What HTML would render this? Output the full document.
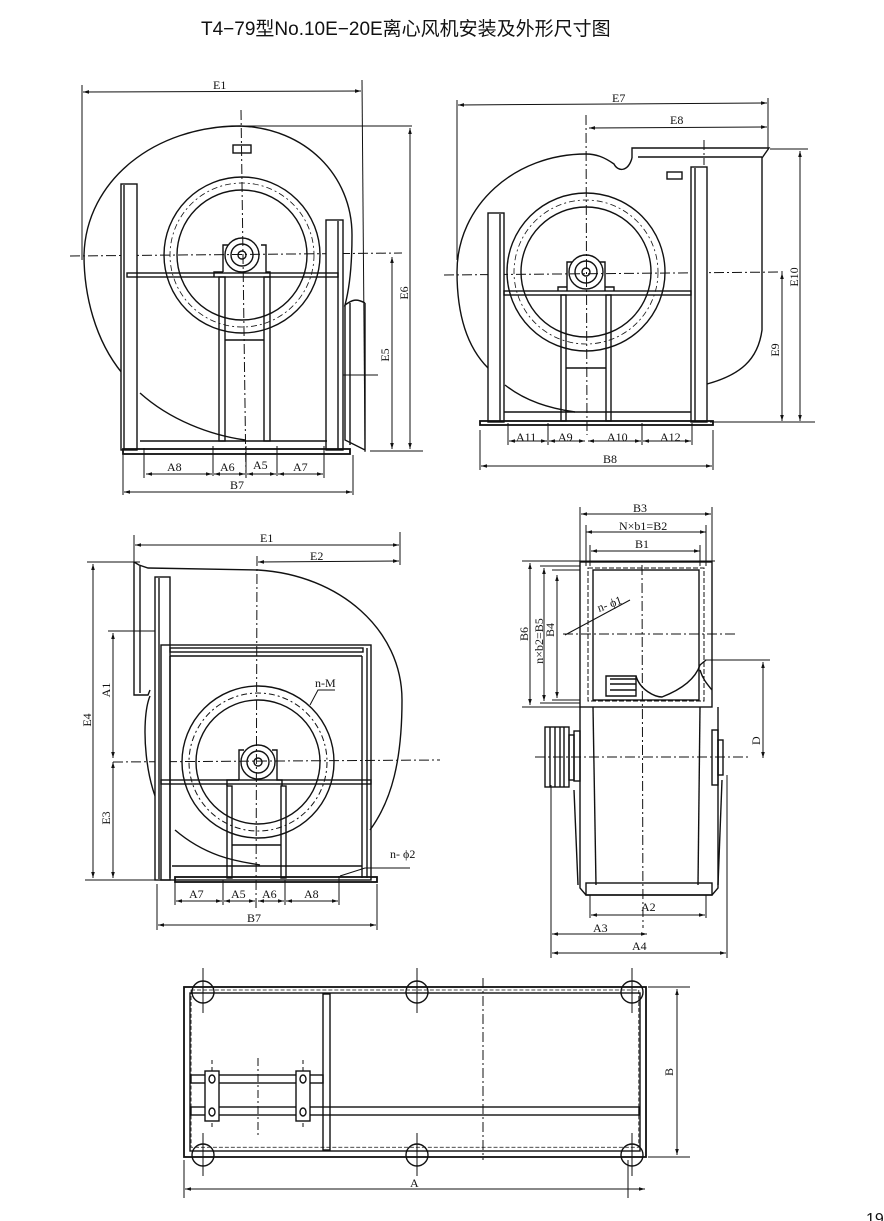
<!DOCTYPE html>
<html><head><meta charset="utf-8"><style>
html,body{margin:0;padding:0;background:#fff}
svg{display:block}
text{font-family:"Liberation Serif","Noto Serif CJK SC",serif;font-size:12px;fill:#111}
.t{font-family:"Liberation Sans","Noto Sans CJK SC",sans-serif;font-size:19px}
</style></head><body>
<svg width="884" height="1221" viewBox="0 0 884 1221" xmlns="http://www.w3.org/2000/svg">
<defs>
<marker id="a" viewBox="0 0 10 10" refX="10" refY="5" markerWidth="8" markerHeight="6" orient="auto-start-reverse"><path d="M0,2 L10,5 L0,8z" fill="#111"/></marker>
</defs>
<text class="t" x="201" y="35">T4−79型No.10E−20E离心风机安装及外形尺寸图</text>
<text x="866" y="1224" style="font-family:'Liberation Sans';font-size:16px">19</text>

<g stroke="#111" fill="none" stroke-width="1.4">
<!-- ===== TOP LEFT VIEW ===== -->
<g stroke-width="1">
<line x1="82" y1="85" x2="82" y2="260"/><line x1="362" y1="80" x2="365" y2="452"/>
<line x1="83" y1="92" x2="361" y2="91" marker-start="url(#a)" marker-end="url(#a)"/>
<line x1="245" y1="126" x2="412" y2="126"/><line x1="370" y1="451" x2="423" y2="451"/>
<line x1="410" y1="128" x2="410" y2="449" marker-start="url(#a)" marker-end="url(#a)"/>
<line x1="392" y1="257" x2="392" y2="449" marker-start="url(#a)" marker-end="url(#a)"/>
<line x1="330" y1="375" x2="378" y2="375"/>
<line x1="144" y1="448" x2="144" y2="478"/><line x1="213" y1="446" x2="213" y2="476"/><line x1="246" y1="446" x2="246" y2="478"/><line x1="277" y1="446" x2="277" y2="476"/><line x1="324" y1="446" x2="324" y2="478"/>
<line x1="146" y1="474" x2="212" y2="474" marker-start="url(#a)" marker-end="url(#a)"/>
<line x1="214" y1="474" x2="245" y2="474" marker-start="url(#a)" marker-end="url(#a)"/>
<line x1="247" y1="474" x2="276" y2="474" marker-start="url(#a)" marker-end="url(#a)"/>
<line x1="278" y1="474" x2="323" y2="474" marker-start="url(#a)" marker-end="url(#a)"/>
<line x1="123" y1="455" x2="123" y2="495"/><line x1="353" y1="455" x2="353" y2="495"/>
<line x1="124" y1="492" x2="352" y2="492" marker-start="url(#a)" marker-end="url(#a)"/>
<line x1="70" y1="256" x2="402" y2="253" stroke-dasharray="10 3 2 3"/>
<line x1="241" y1="110" x2="246" y2="478" stroke-dasharray="10 3 2 3"/>
</g>
<path d="M122,373 C95,340 84,295 84,255 C86,180 155,126 240,126 C305,128 352,175 352,235 C352,270 349,290 345,305 C352,300 356,298 365,303"/>
<path d="M140,393 C170,420 210,435 245,440"/>
<rect x="233" y="145" width="18" height="8"/>
<path d="M345,305 L345,440 L365,450 L365,303"/><line x1="350" y1="303" x2="350" y2="445"/>
<rect x="121" y="184" width="16" height="266" fill="#fff"/><line x1="124" y1="185" x2="124" y2="449"/>
<rect x="326" y="220" width="17" height="230" fill="#fff"/><line x1="338" y1="221" x2="338" y2="449"/>
<rect x="127" y="273" width="211" height="4"/>
<rect x="123" y="449" width="227" height="5" stroke-width="1.8"/>
<line x1="140" y1="441" x2="327" y2="441"/>
<circle cx="242" cy="255" r="78"/><circle cx="242" cy="255" r="65"/>
<circle cx="242" cy="255" r="72" stroke-width="0.8" stroke-dasharray="6 3 2 3"/>
<circle cx="242" cy="255" r="17"/><circle cx="242" cy="255" r="11"/><circle cx="242" cy="255" r="4"/>
<path d="M223,272 L223,245 L228,245 M261,245 L266,245 L266,272 L270,272 L270,277 M214,277 L214,272 L223,272"/>
<rect x="219" y="277" width="6" height="164"/><rect x="264" y="277" width="6" height="164"/>
<line x1="225" y1="340" x2="264" y2="340"/>

<!-- ===== TOP RIGHT VIEW ===== -->
<g stroke-width="1">
<line x1="457" y1="100" x2="457" y2="260"/><line x1="768" y1="98" x2="768" y2="150"/>
<line x1="458" y1="105" x2="767" y2="103" marker-start="url(#a)" marker-end="url(#a)"/>
<line x1="589" y1="128" x2="767" y2="127" marker-start="url(#a)" marker-end="url(#a)"/>
<line x1="770" y1="149" x2="808" y2="149"/><line x1="710" y1="422" x2="815" y2="422"/>
<line x1="800" y1="151" x2="800" y2="421" marker-start="url(#a)" marker-end="url(#a)"/>
<line x1="782" y1="273" x2="782" y2="421" marker-start="url(#a)" marker-end="url(#a)"/>
<line x1="444" y1="275" x2="785" y2="272" stroke-dasharray="10 3 2 3"/>
<line x1="586" y1="115" x2="587" y2="435" stroke-dasharray="10 3 2 3"/>
<line x1="704" y1="140" x2="704" y2="165" stroke-dasharray="10 3 2 3"/>
<line x1="508" y1="423" x2="508" y2="445"/><line x1="548" y1="423" x2="548" y2="445"/><line x1="642" y1="423" x2="642" y2="445"/><line x1="692" y1="423" x2="692" y2="445"/>
<line x1="509" y1="441" x2="547" y2="441" marker-start="url(#a)" marker-end="url(#a)"/>
<line x1="549" y1="441" x2="585" y2="441" marker-start="url(#a)" marker-end="url(#a)"/>
<line x1="588" y1="441" x2="641" y2="441" marker-start="url(#a)" marker-end="url(#a)"/>
<line x1="643" y1="441" x2="691" y2="441" marker-start="url(#a)" marker-end="url(#a)"/>
<line x1="480" y1="430" x2="480" y2="470"/><line x1="713" y1="430" x2="713" y2="470"/>
<line x1="481" y1="466" x2="712" y2="466" marker-start="url(#a)" marker-end="url(#a)"/>
</g>
<path d="M632,158 C628,172 618,172 614,164 C604,157 596,154 586,154 C515,154 457,205 457,272 C457,320 470,350 488,368"/>
<path d="M632,158 L632,148 L769,148 L762,158 L762,330 C758,360 740,375 707,384"/>
<line x1="638" y1="157" x2="762" y2="157"/>
<path d="M505,385 C530,405 560,410 575,412"/>
<rect x="667" y="172" width="15" height="7"/>
<rect x="488" y="213" width="16" height="209" fill="#fff"/><line x1="500" y1="214" x2="500" y2="421"/>
<rect x="691" y="167" width="16" height="255" fill="#fff"/><line x1="695" y1="168" x2="695" y2="421"/>
<rect x="504" y="291" width="187" height="4"/>
<rect x="480" y="421" width="233" height="4" stroke-width="1.8"/>
<line x1="504" y1="412" x2="691" y2="412"/>
<circle cx="586" cy="272" r="79"/><circle cx="586" cy="272" r="65"/>
<circle cx="586" cy="272" r="72" stroke-width="0.8" stroke-dasharray="6 3 2 3"/>
<circle cx="586" cy="272" r="17"/><circle cx="586" cy="272" r="11"/><circle cx="586" cy="272" r="4"/>
<path d="M567,291 L567,262 L572,262 M600,262 L605,262 L605,291"/><path d="M558,291 L558,287 L567,287 M605,287 L614,287 L614,291"/>
<rect x="561" y="295" width="5" height="126"/><rect x="606" y="295" width="5" height="126"/>
<line x1="566" y1="368" x2="606" y2="368"/>

<!-- ===== BOTTOM LEFT VIEW ===== -->
<g stroke-width="1">
<line x1="134" y1="535" x2="134" y2="565"/><line x1="400" y1="532" x2="400" y2="565"/>
<line x1="135" y1="545" x2="399" y2="545" marker-start="url(#a)" marker-end="url(#a)"/>
<line x1="258" y1="562" x2="399" y2="561" marker-start="url(#a)" marker-end="url(#a)"/>
<line x1="87" y1="562" x2="140" y2="562"/><line x1="85" y1="880" x2="160" y2="880"/><line x1="108" y1="631" x2="170" y2="631"/>
<line x1="93" y1="564" x2="93" y2="878" marker-start="url(#a)" marker-end="url(#a)"/>
<line x1="113" y1="633" x2="113" y2="758" marker-start="url(#a)" marker-end="url(#a)"/>
<line x1="113" y1="762" x2="113" y2="878" marker-start="url(#a)" marker-end="url(#a)"/>
<line x1="113" y1="762" x2="440" y2="760" stroke-dasharray="10 3 2 3"/>
<line x1="257" y1="556" x2="256" y2="910" stroke-dasharray="10 3 2 3"/>
<line x1="175" y1="880" x2="175" y2="905"/><line x1="223" y1="880" x2="223" y2="905"/><line x1="285" y1="880" x2="285" y2="905"/><line x1="339" y1="876" x2="339" y2="905"/>
<line x1="176" y1="901" x2="222" y2="901" marker-start="url(#a)" marker-end="url(#a)"/>
<line x1="224" y1="901" x2="255" y2="901" marker-start="url(#a)" marker-end="url(#a)"/>
<line x1="258" y1="901" x2="284" y2="901" marker-start="url(#a)" marker-end="url(#a)"/>
<line x1="286" y1="901" x2="338" y2="901" marker-start="url(#a)" marker-end="url(#a)"/>
<line x1="157" y1="884" x2="157" y2="930"/><line x1="377" y1="884" x2="377" y2="930"/>
<line x1="158" y1="925" x2="376" y2="925" marker-start="url(#a)" marker-end="url(#a)"/>
<path d="M340,876 L365,868 L410,868"/><path d="M310,705 L318,690 L335,690"/>
</g>
<path d="M134,562 L139,565 L148,568 L258,570 C340,575 402,630 402,700 C402,760 392,800 370,830"/>
<path d="M134,562 L134,695 L148,695 L150,690"/><line x1="140" y1="566" x2="140" y2="693"/>
<path d="M150,696 C140,720 145,790 165,815"/>
<path d="M175,830 C210,860 245,862 260,865"/>
<rect x="155" y="577" width="15" height="303" fill="#fff"/><line x1="159" y1="578" x2="159" y2="879"/>
<rect x="161" y="645" width="210" height="235"/><line x1="170" y1="656" x2="362" y2="656"/>
<rect x="170" y="648" width="193" height="4"/>
<line x1="170" y1="656" x2="170" y2="878"/><line x1="362" y1="656" x2="362" y2="878"/><line x1="367" y1="648" x2="367" y2="878"/>
<rect x="161" y="780" width="210" height="4"/>
<rect x="175" y="877" width="202" height="5" stroke-width="1.8"/>
<line x1="172" y1="866" x2="362" y2="866"/>
<circle cx="258" cy="762" r="76"/><circle cx="258" cy="762" r="62"/>
<circle cx="258" cy="762" r="69" stroke-width="1" stroke-dasharray="6 3 2 3"/>
<circle cx="258" cy="762" r="17"/><circle cx="258" cy="762" r="11"/><circle cx="258" cy="762" r="4"/>
<path d="M239,780 L239,750 L244,750 M272,750 L277,750 L277,780 L282,780 L282,786 M227,786 L227,780 L239,780"/>
<rect x="227" y="786" width="5" height="92"/><rect x="281" y="786" width="5" height="92"/>
<line x1="232" y1="845" x2="281" y2="845"/>

<!-- ===== BOTTOM RIGHT SIDE VIEW ===== -->
<g stroke-width="1">
<line x1="580" y1="507" x2="580" y2="566"/><line x1="712" y1="507" x2="712" y2="566"/>
<line x1="581" y1="514" x2="711" y2="514" marker-start="url(#a)" marker-end="url(#a)"/>
<line x1="586" y1="532" x2="706" y2="532" marker-start="url(#a)" marker-end="url(#a)"/>
<line x1="591" y1="551" x2="700" y2="551" marker-start="url(#a)" marker-end="url(#a)"/>
<line x1="586" y1="525" x2="586" y2="566"/><line x1="706" y1="525" x2="706" y2="566"/><line x1="590" y1="545" x2="590" y2="566"/><line x1="700" y1="545" x2="700" y2="566"/>
<line x1="522" y1="561" x2="715" y2="561"/><line x1="540" y1="566" x2="580" y2="566"/><line x1="552" y1="570" x2="580" y2="570"/>
<line x1="522" y1="707" x2="580" y2="707"/><line x1="540" y1="703" x2="580" y2="703"/><line x1="552" y1="700" x2="580" y2="700"/>
<line x1="530" y1="563" x2="530" y2="705" marker-start="url(#a)" marker-end="url(#a)"/>
<line x1="544" y1="568" x2="544" y2="701" marker-start="url(#a)" marker-end="url(#a)"/>
<line x1="557" y1="575" x2="557" y2="698" marker-start="url(#a)" marker-end="url(#a)"/>
<line x1="763" y1="662" x2="763" y2="758" marker-start="url(#a)" marker-end="url(#a)"/>
<line x1="705" y1="660" x2="770" y2="660"/>
<line x1="565" y1="635" x2="630" y2="600"/>
<line x1="563" y1="634" x2="738" y2="634" stroke-dasharray="10 3 2 3"/>
<line x1="535" y1="757" x2="750" y2="757" stroke-dasharray="10 3 2 3"/>
<line x1="642" y1="565" x2="643" y2="928" stroke-dasharray="10 3 2 3"/>
<line x1="590" y1="895" x2="590" y2="918"/><line x1="706" y1="895" x2="706" y2="918"/>
<line x1="591" y1="915" x2="705" y2="915" marker-start="url(#a)" marker-end="url(#a)"/>
<line x1="551" y1="785" x2="551" y2="958"/><line x1="727" y1="775" x2="727" y2="958"/>
<line x1="552" y1="934" x2="647" y2="934" marker-start="url(#a)" marker-end="url(#a)"/>
<line x1="552" y1="953" x2="726" y2="953" marker-start="url(#a)" marker-end="url(#a)"/>
</g>
<rect x="580" y="562" width="132" height="145"/>
<rect x="588" y="568" width="116" height="133" stroke-width="1" stroke-dasharray="5 2"/>
<rect x="593" y="570" width="106" height="130"/>
<path d="M606,676 L636,676 L636,696 L606,696 Z M610,679 L636,679 M610,684 L636,684 M610,690 L636,690"/>
<path d="M636,676 C640,690 655,697 662,697 C680,690 695,680 700,665 L706,660 M700,670 C703,680 708,685 712,690"/>
<path d="M580,707 L580,888 L586,895 L712,895 L718,888 L718,707"/>
<line x1="593" y1="707" x2="596" y2="885"/><line x1="700" y1="707" x2="698" y2="885"/>
<rect x="586" y="883" width="126" height="12"/>
<line x1="574" y1="790" x2="578" y2="885"/><line x1="722" y1="780" x2="718" y2="885"/>
<rect x="545" y="727" width="24" height="60"/>
<line x1="550" y1="727" x2="550" y2="787"/><line x1="555" y1="727" x2="555" y2="787"/><line x1="560" y1="727" x2="560" y2="787"/><line x1="564" y1="727" x2="564" y2="787"/>
<rect x="569" y="735" width="5" height="45"/><rect x="574" y="731" width="6" height="50"/>
<rect x="712" y="730" width="6" height="55"/><rect x="718" y="740" width="5" height="35"/>

<!-- ===== BOTTOM PLAN ===== -->
<g stroke-width="1">
<line x1="648" y1="987" x2="690" y2="987"/><line x1="648" y1="1157" x2="690" y2="1157"/>
<line x1="677" y1="989" x2="677" y2="1155" marker-start="url(#a)" marker-end="url(#a)"/>
<line x1="184" y1="1160" x2="184" y2="1198"/><line x1="628" y1="1160" x2="628" y2="1198"/>
<line x1="185" y1="1189" x2="645" y2="1189" marker-start="url(#a)" marker-end="url(#a)"/>
<line x1="483" y1="978" x2="483" y2="1160" stroke-dasharray="10 3 2 3"/>
<line x1="258" y1="1058" x2="258" y2="1138" stroke-dasharray="8 3 2 3"/>
<line x1="203" y1="968" x2="203" y2="1013"/><line x1="417" y1="968" x2="417" y2="1013"/><line x1="632" y1="968" x2="632" y2="1013"/>
<line x1="203" y1="1133" x2="203" y2="1176"/><line x1="417" y1="1133" x2="417" y2="1176"/><line x1="632" y1="1133" x2="632" y2="1176"/>
<line x1="212" y1="1060" x2="212" y2="1130" stroke-dasharray="4 3"/><line x1="303" y1="1060" x2="303" y2="1130" stroke-dasharray="4 3"/>
</g>
<circle cx="203" cy="992" r="11"/><circle cx="417" cy="992" r="11"/><circle cx="632" cy="992" r="11"/>
<circle cx="203" cy="1155" r="11"/><circle cx="417" cy="1155" r="11"/><circle cx="632" cy="1155" r="11"/>
<rect x="184" y="987" width="462" height="170" fill="none" stroke-width="1.8"/>
<rect x="190" y="993" width="450" height="158"/>
<rect x="190" y="993" width="450" height="158" fill="none" stroke-width="0.8" stroke-dasharray="4 2" transform="translate(2,2) scale(0.995)"/>
<rect x="323" y="994" width="7" height="156"/>
<rect x="191" y="1075" width="132" height="8"/>
<rect x="191" y="1107" width="448" height="8"/>
<rect x="205" y="1071" width="14" height="50" fill="#fff"/><rect x="296" y="1071" width="14" height="50" fill="#fff"/>
<ellipse cx="212" cy="1079" rx="3" ry="4"/><ellipse cx="212" cy="1112" rx="3" ry="4"/>
<ellipse cx="303" cy="1079" rx="3" ry="4"/><ellipse cx="303" cy="1112" rx="3" ry="4"/>
</g>

<!-- labels -->
<text x="213" y="89">E1</text>
<text x="612" y="102">E7</text>
<text x="670" y="124">E8</text>
<text transform="translate(408,293) rotate(-90)" text-anchor="middle">E6</text>
<text transform="translate(389,355) rotate(-90)" text-anchor="middle">E5</text>
<text transform="translate(798,277) rotate(-90)" text-anchor="middle">E10</text>
<text transform="translate(779,350) rotate(-90)" text-anchor="middle">E9</text>
<text x="167" y="471">A8</text><text x="220" y="471">A6</text><text x="253" y="469">A5</text><text x="293" y="471">A7</text>
<text x="230" y="489">B7</text>
<text x="516" y="441">A11</text><text x="558" y="441">A9</text><text x="607" y="441">A10</text><text x="660" y="441">A12</text>
<text x="603" y="463">B8</text>
<text x="260" y="542">E1</text><text x="310" y="560">E2</text>
<text transform="translate(91,720) rotate(-90)" text-anchor="middle">E4</text>
<text transform="translate(110,690) rotate(-90)" text-anchor="middle">A1</text>
<text transform="translate(110,818) rotate(-90)" text-anchor="middle">E3</text>
<text x="315" y="687">n-M</text><text x="390" y="858">n- ϕ2</text>
<text x="189" y="898">A7</text><text x="231" y="898">A5</text><text x="262" y="898">A6</text><text x="304" y="898">A8</text>
<text x="247" y="922">B7</text>
<text x="633" y="512">B3</text><text x="619" y="530">N×b1=B2</text><text x="635" y="548">B1</text>
<text transform="translate(528,634) rotate(-90)" text-anchor="middle">B6</text>
<text transform="translate(543,641) rotate(-90)" text-anchor="middle">n×b2=B5</text>
<text transform="translate(554,630) rotate(-90)" text-anchor="middle">B4</text>
<text transform="translate(599,612) rotate(-20)">n- ϕ1</text>
<text transform="translate(760,745) rotate(-90)">D</text>
<text x="641" y="911">A2</text><text x="593" y="932">A3</text><text x="632" y="950">A4</text>
<text x="410" y="1187">A</text>
<text transform="translate(673,1072) rotate(-90)" text-anchor="middle">B</text>
</svg>
</body></html>
